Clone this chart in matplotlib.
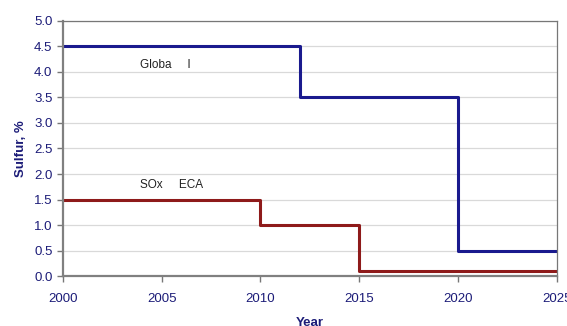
import matplotlib
matplotlib.use("Agg")
import matplotlib.pyplot as plt

# sulfur limits in marine fuel, step changes by year
global_years = [2000, 2012, 2020, 2025]
global_sulfur = [4.5, 3.5, 0.5, 0.5]
eca_years = [2000, 2010, 2015, 2025]
eca_sulfur = [1.5, 1.0, 0.1, 0.1]

xticks = [2000, 2005, 2010, 2015, 2020, 2025]
yticks = [0.0, 0.5, 1.0, 1.5, 2.0, 2.5, 3.0, 3.5, 4.0, 4.5, 5.0]

plt.rcParams['font.family'] = ['Liberation Sans', 'DejaVu Sans']
navy = '#1c1c78'

fig = plt.figure(figsize=(5.67, 3.26), dpi=100)
ax = fig.add_axes([0.111, 0.153, 0.871, 0.783])

ax.step(global_years, global_sulfur, where='post', color='#1a1a8e', lw=2.2)
ax.step(eca_years, eca_sulfur, where='post', color='#8e1a1a', lw=2.2)

ax.text(2003.9, 4.13, 'Globa     l', fontsize=8.5, color='#222222', va='center')
ax.text(2003.9, 1.79, 'SOx     ECA', fontsize=8.5, color='#222222', va='center')

ax.set_xlim(2000, 2025)
ax.set_ylim(0, 5)
ax.set_xticks(xticks)
ax.set_yticks(yticks)
ax.set_yticklabels([f'{v:.1f}' for v in yticks])
ax.grid(axis='y', color='#d9d9d9', lw=0.9)
ax.set_axisbelow(True)

ax.tick_params(direction='out', length=4, color='#777777', labelsize=9.5,
               labelcolor=navy, width=1)
ax.tick_params(axis='x', pad=8)
for side in ['left', 'bottom']:
    ax.spines[side].set_color('#808080')
    ax.spines[side].set_linewidth(1.6)
for side in ['top', 'right']:
    ax.spines[side].set_color('#777777')
    ax.spines[side].set_linewidth(0.9)

ax.set_ylabel('Sulfur, %', fontsize=9.5, color=navy, fontweight='bold', labelpad=5)
ax.set_xlabel('Year', fontsize=9.5, color=navy, fontweight='bold', labelpad=9)

fig.savefig('out.png', dpi=100)
